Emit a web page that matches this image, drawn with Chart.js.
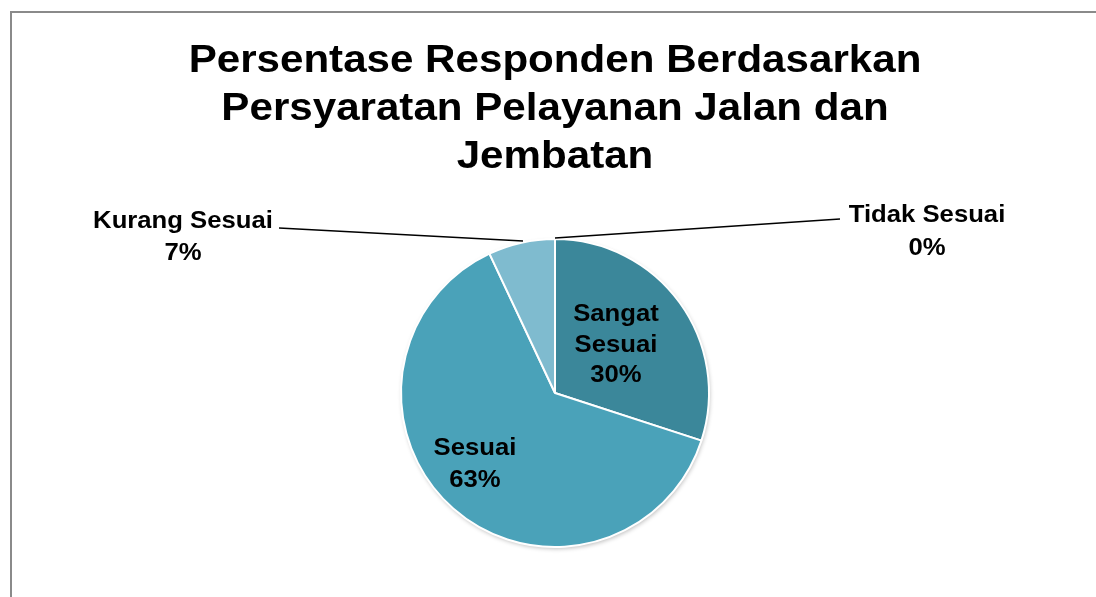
<!DOCTYPE html>
<html>
<head>
<meta charset="utf-8">
<script src="https://cdn.jsdelivr.net/npm/chart.js@4"></script>
<style>
html,body{margin:0;padding:0;background:#fff;}
canvas{display:block;}
</style>
</head>
<body>
<canvas id="c" width="1096" height="597"></canvas>
<script>
const categories = ["Sangat Sesuai", "Sesuai", "Kurang Sesuai", "Tidak Sesuai"];
const values = [30, 63, 7, 0];
const titleLines = ["Persentase Responden Berdasarkan", "Persyaratan Pelayanan Jalan dan", "Jembatan"];
const sliceColors = ["#3B879A", "#4AA2B9", "#7FBBCF", "#2E6F80"];

const FONT = '"Liberation Sans", Arial, sans-serif';

function stretchText(ctx, text, x, y, size, sx) {
  ctx.save();
  ctx.font = 'bold ' + size + 'px ' + FONT;
  ctx.textAlign = 'center';
  ctx.textBaseline = 'alphabetic';
  ctx.fillStyle = '#000';
  ctx.translate(x, y);
  ctx.scale(sx, 1);
  ctx.fillText(text, 0, 0);
  ctx.restore();
}

// label placement (positions only, text comes from data)
const labelLayout = [
  {lines: ["Sangat", "Sesuai"], x: 616, y: 321, gap: 30.5},
  {lines: ["Sesuai"], x: 475, y: 455, gap: 32},
  {lines: null, x: 183, y: 228, gap: 32, leader: [[279, 228], [523, 241]]},
  {lines: null, x: 927, y: 222, gap: 33, leader: [[555, 238], [840, 219]]}
];

const decor = {
  id: 'decor',
  beforeDraw(chart) {
    const ctx = chart.ctx;
    ctx.save();
    ctx.fillStyle = '#fff';
    ctx.fillRect(0, 0, chart.width, chart.height);
    ctx.strokeStyle = '#8a8a8a';
    ctx.lineWidth = 2;
    ctx.beginPath();
    ctx.moveTo(11, 600);
    ctx.lineTo(11, 12);
    ctx.lineTo(1100, 12);
    ctx.stroke();
    ctx.restore();
    titleLines.forEach((t, i) => stretchText(ctx, t, 555, 72 + i * 48, 39, 1.08));
  },
  beforeDatasetsDraw(chart) {
    const ctx = chart.ctx;
    ctx.save();
    ctx.shadowColor = 'rgba(0,0,0,0.25)';
    ctx.shadowBlur = 4;
    ctx.shadowOffsetX = 1;
    ctx.shadowOffsetY = 2;
    const meta = chart.getDatasetMeta(0);
    const a = meta.data[0];
    ctx.fillStyle = '#fff';
    ctx.beginPath();
    ctx.arc(a.x, a.y, a.outerRadius, 0, Math.PI * 2);
    ctx.fill();
    ctx.restore();
  },
  afterDatasetsDraw(chart) {
    const ctx = chart.ctx;
    const total = values.reduce((s, v) => s + v, 0);
    labelLayout.forEach((L, i) => {
      if (L.leader) {
        ctx.save();
        ctx.strokeStyle = '#000';
        ctx.lineWidth = 1.3;
        ctx.beginPath();
        ctx.moveTo(L.leader[0][0], L.leader[0][1]);
        ctx.lineTo(L.leader[1][0], L.leader[1][1]);
        ctx.stroke();
        ctx.restore();
      }
      const lines = (L.lines ? L.lines.slice() : [categories[i]]);
      lines.push(Math.round(values[i] / total * 100) + '%');
      lines.forEach((t, k) => stretchText(ctx, t, L.x, L.y + k * L.gap, 24, 1.07));
    });
  }
};

new Chart(document.getElementById('c'), {
  type: 'pie',
  data: {
    labels: categories,
    datasets: [{
      data: values,
      backgroundColor: sliceColors,
      borderColor: '#ffffff',
      borderWidth: 2
    }]
  },
  options: {
    responsive: false,
    animation: false,
    layout: {padding: {left: 400, right: 386, top: 238, bottom: 49}},
    plugins: {
      legend: {display: false},
      title: {display: false},
      tooltip: {enabled: false}
    }
  },
  plugins: [decor]
});
</script>
</body>
</html>
